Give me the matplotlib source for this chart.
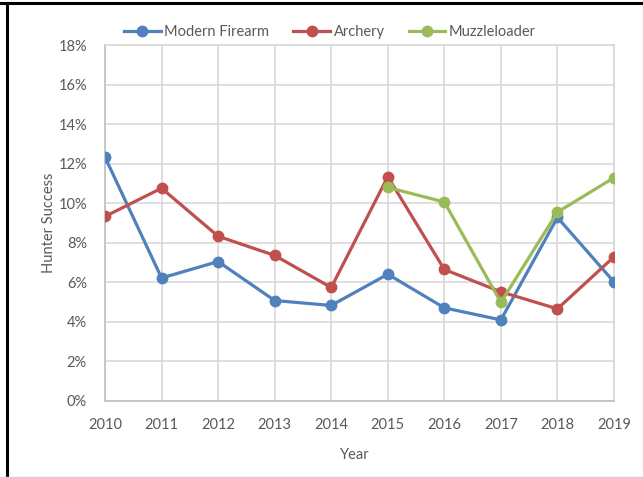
import matplotlib
matplotlib.use("Agg")
import matplotlib.pyplot as plt
from matplotlib.lines import Line2D
from matplotlib.ticker import PercentFormatter

years = [2010, 2011, 2012, 2013, 2014, 2015, 2016, 2017, 2018, 2019]
modern_firearm = [12.33, 6.22, 7.05, 5.08, 4.83, 6.41, 4.71, 4.10, 9.28, 6.02]
archery = [9.33, 10.76, 8.33, 7.36, 5.74, 11.34, 6.65, 5.52, 4.66, 7.29]
muzzle_years = [2015, 2016, 2017, 2018, 2019]
muzzleloader = [10.80, 10.06, 4.99, 9.55, 11.29]

plt.rcParams['font.family'] = ['Lato', 'DejaVu Sans']
text_col = '#595959'

fig = plt.figure(figsize=(6.43, 4.78), dpi=100)
ax = fig.add_axes([105 / 643, 1 - 401 / 478, 509 / 643, 356 / 478])

ax.plot(years, modern_firearm, color='#4F81BD', marker='o', lw=2.3, ms=7.5, label='Modern Firearm', zorder=3)
ax.plot(years, archery, color='#C0504D', marker='o', lw=2.3, ms=7.5, label='Archery', zorder=3)
ax.plot(muzzle_years, muzzleloader, color='#9BBB59', marker='o', lw=2.3, ms=7.5, label='Muzzleloader', zorder=3)

ax.set_xlim(2010, 2019)
ax.set_ylim(0, 18)
ax.set_xticks(years)
ax.set_yticks(range(0, 19, 2))
ax.yaxis.set_major_formatter(PercentFormatter(decimals=0))
ax.grid(True, color='#D9D9D9', lw=1.2)
ax.set_axisbelow(True)
for s in ax.spines.values():
    s.set_color('#D9D9D9')
    s.set_linewidth(1.2)
ax.spines['bottom'].set_color('#BFBFBF')
ax.spines['left'].set_color('#BFBFBF')
ax.tick_params(length=0, colors=text_col, labelsize=10.5)
ax.tick_params(axis='y', pad=13)
ax.tick_params(axis='x', pad=12)

ax.set_ylabel('Hunter Success', color=text_col, fontsize=10.5)
ax.yaxis.set_label_coords(-49 / 509, 0.5)
ax.set_xlabel('Year', color=text_col, fontsize=10.5)
ax.xaxis.set_label_coords(250 / 509, -47 / 356)

ax.legend(loc='lower center', bbox_to_anchor=(0.442, 0.995), ncol=3, frameon=False,
          fontsize=10.5, labelcolor=text_col, handlelength=2.5, handletextpad=0.25,
          columnspacing=1.65, borderaxespad=0.1, markerscale=1.0)

# frame fragments around the image
fig.add_artist(Line2D([0, 1], [1 - 3 / 478, 1 - 3 / 478], color='black', lw=2.2))
fig.add_artist(Line2D([7 / 643, 7 / 643], [0, 1 - 3 / 478], color='black', lw=2.2))
fig.add_artist(Line2D([0, 1], [1 / 478, 1 / 478], color='#D0D0D0', lw=1))

fig.savefig('out.png', dpi=100)
